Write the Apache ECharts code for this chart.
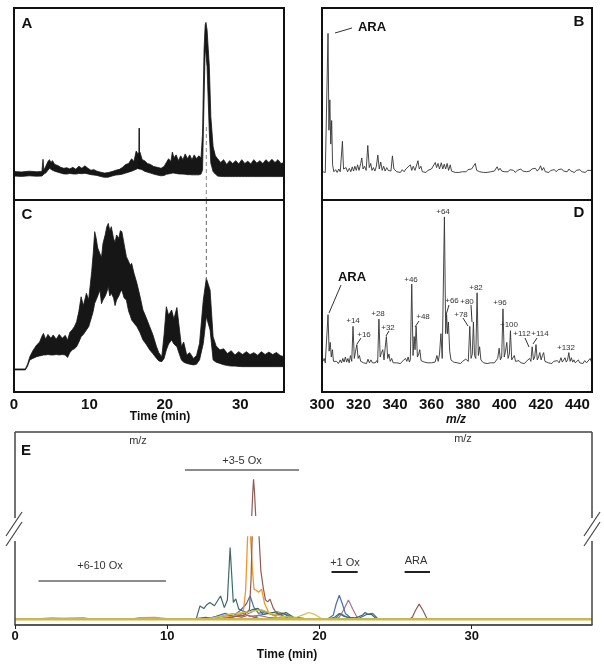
<!DOCTYPE html>
<html><head><meta charset="utf-8">
<script src="https://cdn.jsdelivr.net/npm/echarts@6/dist/echarts.min.js"></script>
<style>html,body{margin:0;padding:0;background:#fff}#c{width:604px;height:665px}</style>
</head><body><div id="c"></div>
<script>
const FONT = 'Liberation Sans, Arial, sans-serif';

// ---- Panel A: total ion chromatogram noise envelope (time min, lower / upper intensity)
const aTime  = [0,1,2,3,3.7,3.85,3.95,4.2,4.5,4.7,4.9,5.1,5.4,5.8,6.2,6.6,7.0,7.4,7.8,8.2,8.6,9.0,9.4,9.8,10.2,10.6,11.0,11.5,12.0,12.5,13.0,13.5,14.0,14.4,14.8,15.2,15.6,15.9,16.2,16.45,16.7,17.0,17.3,17.7,18.1,18.5,19.0,19.5,19.9,20.2,20.5,20.8,21.0,21.2,21.5,21.8,22.1,22.4,22.7,23.0,23.3,23.6,23.9,24.2,24.5,24.8,25.0,25.2,25.35,25.45,25.6,25.9,26.1,26.4,26.7,27.0,27.4,27.8,28.2,28.6,29.0,29.4,29.8,30.2,30.6,31.0,31.4,31.8,32.2,32.6,33.0,33.4,33.8,34.2,34.6,35.0,35.4,35.8];
const aLower = [12.5,12.3,12.6,12.4,12.5,13.0,13.5,14.0,15.5,16.5,16.0,15.5,15.0,14.5,14.0,13.6,13.5,13.8,13.6,13.5,13.8,13.7,13.9,13.6,13.2,13.0,12.8,12.2,11.8,11.9,12.5,13.0,13.2,13.5,14.0,14.5,15.0,15.5,16.0,16.5,16.2,15.7,15.0,14.5,14.0,13.5,13.0,12.6,12.8,13.4,13.6,13.8,14.0,14.0,13.8,13.6,13.5,13.5,13.4,13.2,13.2,13.1,13.1,13.1,13.1,13.5,15.7,52.1,79.9,76,69.5,34.8,19.1,14.8,13.5,12.5,12.3,12.2,12.2,12.2,12.2,12.2,12.2,12.2,12.2,12.2,12.2,12.2,12.2,12.2,12.2,12.2,12.2,12.2,12.2,12.2,12.2,12.2];
const aUpper = [14.8,14.6,15.0,14.7,14.9,21.2,15.5,17.5,20.0,21.0,19.5,20.5,18.5,18.0,17.0,16.5,16.8,16.2,17.0,16.0,17.6,16.5,17.8,16.5,15.5,15.8,15.0,14.5,14.0,14.3,14.8,15.5,16.0,17.0,18.5,19.0,21.5,20.0,25.5,24.0,25.0,21.0,20.5,19.0,18.5,17.5,17.0,16.5,17.5,19.5,21.5,20.0,25.0,22.0,23.5,20.5,23.0,21.0,24.0,21.5,23.5,21.0,23.5,21.5,23.0,22.0,34.8,78.2,91.2,92.5,88.6,69.5,43.4,27.8,23.0,21.5,19.5,21.0,18.5,20.5,19.0,20.5,18.8,21.0,19.0,20.2,18.8,21.0,19.2,20.5,19.0,21.0,19.5,21.2,19.5,21.0,19.0,19.5];
const aSpike = [[16.55, 16], [16.6, 37.4], [16.65, 16]];

// ---- Panel C
const cTime  = [0,1.5,1.8,2.1,2.5,3.0,3.4,3.7,3.9,4.2,4.5,4.9,5.2,5.6,6.0,6.4,6.8,7.1,7.4,7.7,8.0,8.3,8.6,8.9,9.2,9.6,9.9,10.3,10.5,10.7,10.9,11.1,11.4,11.6,11.8,12.1,12.3,12.5,12.7,12.9,13.2,13.4,13.6,13.9,14.1,14.3,14.6,14.9,15.2,15.4,15.6,15.9,16.3,16.7,17.1,17.5,18.0,18.4,18.9,19.2,19.6,19.9,20.2,20.5,20.9,21.2,21.6,21.9,22.2,22.5,22.9,23.3,23.8,24.2,24.6,25.1,25.5,26.0,26.4,26.8,27.3,27.8,28.3,28.8,29.3,29.8,30.3,30.8,31.3,31.8,32.3,32.8,33.3,33.8,34.3,34.8,35.3,35.8];
const cLower = [11.5,11.5,13.5,16.7,17.5,18.4,18.8,19.0,19.3,19.3,19.5,19.3,19.3,19.5,19.3,19.5,19.3,18.0,20.5,21.9,22.5,23.6,26.0,28.8,30.0,32.3,34.0,39.2,42.0,46.2,48.0,50.0,53.1,46.0,47.9,50.0,52.0,54.9,50.0,51.4,49.0,45.0,47.9,50.0,52.0,53.1,49.0,47.9,42.0,40.0,37.5,36.0,34.0,31.0,27.1,25.0,21.9,20.0,17.5,16.2,15.8,17.5,21.9,25.0,27.1,25.0,23.6,20.0,16.7,15.5,14.9,14.5,14.1,14.5,16.7,25.3,39.2,32.3,16.7,15.5,14.9,14.2,13.8,13.5,13.5,13.3,13.2,13.2,13.2,13.2,13.2,13.2,13.2,13.2,13.2,13.2,13.2,13.2];
const cUpper = [12.0,12.0,14.5,18.4,21.5,24.5,26.0,29.0,30.5,27.5,30.0,28.0,29.7,27.5,30.0,28.0,29.5,27.0,31.0,32.3,34.0,36.6,42.0,49.6,45.0,51.4,48.0,62.7,72.0,83.5,80.0,75.0,72.0,70.0,77.4,82.0,86.0,87.8,84.0,86.1,80.0,78.0,81.8,80.0,84.0,83.5,77.0,70.5,68.0,66.0,67.0,62.0,56.6,50.0,42.7,39.0,34.0,30.0,23.6,20.5,18.4,30.0,44.4,40.0,42.7,38.0,44.0,34.0,23.6,26.0,19.3,20.5,17.5,19.0,25.3,47.9,59.2,53.1,28.8,24.0,21.9,22.5,20.0,21.5,19.3,21.0,19.5,21.0,19.5,20.5,19.2,21.0,19.5,20.8,19.5,20.6,19.0,18.4];

const dashA = [[25.5, 38], [25.5, 0]];
const dashC = [[25.5, 100], [25.5, 58.3]];

// ---- Panel B: mass spectrum (m/z, relative intensity)
const specB = [[300.5,0],[301.2,1],[301.8,-0.5],[302.6,0],[303.3,100],[303.8,30],[304.3,52],[304.8,20],[305.3,37],[305.8,5],[306.5,0],[307.5,1.5],[308.3,-0.5],[309.2,2],[310,0],[310.6,0.5],[311.2,22],[311.8,2],[312.6,1],[313.2,3],[314,0],[315,2.5],[315.8,0],[316.6,3.5],[317.3,0.5],[318,4],[318.8,1],[319.5,5],[320.3,1],[321.2,6],[321.8,10],[322.5,2],[323.3,4],[324.2,1],[325.1,19],[325.9,3],[326.7,6],[327.4,1],[328.2,3],[329,0.5],[329.8,4],[330.6,12],[331.4,2],[332.2,7],[333,1],[333.8,4],[334.6,0.5],[335.5,3],[336.3,1],[337.1,2],[337.8,0.5],[338.6,11.5],[339.4,2],[340.2,1.5],[341,0],[342,1],[343,-0.5],[344,1.5],[345,0],[346,2],[347,1],[348.4,5],[349.2,1],[350,4],[351,1],[352.6,8],[353.3,2],[354.2,4],[355,0],[356,1],[357,-0.5],[358,1],[359,0],[360,2],[361,1],[362.1,6.7],[362.8,3],[363.6,6],[364.4,2],[365.4,6.5],[366.2,2],[367,5.5],[367.8,2],[368.6,6],[369.4,1],[370.3,5],[371,0.5],[372,1],[373,-0.5],[374,0.5],[375,-0.5],[376,0.5],[377,0],[378,1],[379,0],[380,1.5],[381,0.5],[382,2],[383,1],[384,6],[384.8,1],[385.6,2],[386.5,0],[387.5,0.5],[388.5,-0.5],[389.5,0.5],[390.5,-0.5],[391.5,0.5],[392.5,0],[393.5,-0.5],[394.5,0.5],[395.3,1],[396,3.6],[396.8,1],[397.6,2.5],[398.5,0.5],[399.3,1.5],[400.2,0],[401,1],[402,0],[403,1.5],[404,0.5],[405,1],[406,-0.5],[407,1],[408,0.5],[409,2],[410,0.5],[411,1.5],[412,0],[413,1],[414,0.5],[415,2],[416,1],[417,2.5],[418,0.5],[419,2],[419.8,4.3],[420.6,1],[421.5,3],[422.4,0],[423.4,1],[424.4,-0.5],[425.4,1],[426.4,0],[427.4,1.5],[428.4,0],[429.4,1.5],[430.4,0.5],[431.4,2],[432.4,0.5],[433.4,1.5],[434.4,0],[435.4,2],[436.4,0.5],[437.4,1],[438.4,-0.5],[439.4,1],[440.4,0],[441.4,1.5],[442.4,0],[443.4,1],[444.4,-0.5],[445.4,1],[446.4,0],[447.5,1]];

// ---- Panel D
const specD = [[300.5,1],[301.2,3],[301.8,0],[302.6,0.5],[303.3,33],[303.9,8],[304.5,14],[305.1,4],[305.7,9],[306.3,1],[307,0],[308,1],[309,-0.5],[310,2],[310.7,0],[311.4,3],[312.1,0.5],[312.8,4],[313.5,0.5],[314.2,3],[314.9,0],[315.6,5],[316.3,1],[317,25],[317.7,3],[318.4,8],[319.1,12.5],[319.8,3],[320.5,5],[321.2,1],[322,2],[322.8,0],[323.6,1],[324.4,-0.5],[325.2,2.5],[326,0],[326.8,2],[327.6,0],[328.4,1],[329.2,0],[330,1.5],[330.5,0],[331.2,30],[331.9,4],[332.6,7],[333.3,9],[334,2],[334.6,10],[335.3,18],[336,3],[336.7,6],[337.4,1],[338.2,3],[339,0],[340,1],[341,0],[342,0.5],[343,-0.5],[344,1],[345,0],[345.8,3],[346.5,1],[347.2,4],[347.9,0.5],[348.4,2],[349.2,54],[349.9,5],[350.5,18],[351,9],[351.6,25],[352.3,4],[353,6],[353.6,9],[354.3,1.5],[355,2],[356,0.5],[357,1],[358,0],[359,1],[360,0],[361,1],[362,0.5],[363,5],[363.7,1],[364.4,6],[365.2,20],[365.9,3],[366.4,4],[367.1,100],[367.8,20],[368.3,33],[368.8,20],[369.3,28],[370,8],[370.7,2],[371.4,3],[372.2,0.5],[373,1],[374,0],[375,1],[376,-0.5],[377,1],[378,0],[378.8,2.5],[379.5,3.5],[380.2,1],[381,25],[381.7,3],[382.4,6],[383,28],[383.6,5],[384.3,3],[385,48],[385.7,5],[386.4,11],[387.1,2],[387.8,3],[388.5,0],[389.5,1],[390.5,-0.5],[391.5,0.5],[392.5,0],[393.5,1],[394.5,0],[395.5,1],[396.3,3],[397.1,10],[397.8,2],[398.5,4],[399.2,37],[399.9,4],[400.6,8],[401.3,14],[402,3],[402.7,6],[403.3,22],[404,2],[404.7,3],[405.4,5],[406.1,1],[407,0],[408,1.5],[409,0],[410,1],[411,-0.5],[412,1],[413,0],[413.8,3],[414.5,1],[415.2,11],[415.9,2],[416.6,4],[417.3,12.5],[418,2],[418.7,4],[419.4,7],[420.1,2],[420.8,5],[421.5,7],[422.2,1],[423,2],[424,0],[425,1],[426,-0.5],[427,1],[428,0],[429,1.5],[430,0],[431,3.5],[431.7,0.5],[432.5,2],[433.2,3.5],[433.9,0.5],[434.6,2],[435.3,7],[436,1],[436.7,3.5],[437.4,0.5],[438.1,2],[438.8,0],[439.6,1],[440.5,2],[441.3,0],[442.2,1],[443,-0.5],[444,1.5],[445,0],[446,1],[447,3],[447.7,0.5]];
const dPeakLabels = ['+14','+16','+28','+32','+46','+48','+64','+66','+78','+80','+82','+96','+100','+112','+114','+132'];

// ---- Panel E: extracted ion chromatograms (time min, intensity; '-' = axis break)
const eTeal = [[0,0],[2,0.3],[4.5,0.6],[5,0.2],[11.9,0],[12.15,6.9],[12.4,5.5],[12.6,7.5],[12.8,8.7],[13.1,7],[13.5,12],[13.75,6],[13.95,10],[14.13,37.1],[14.34,8.7],[14.5,10.5],[14.7,5.2],[15.2,3.5],[15.6,5],[15.95,5.6],[16.3,2.5],[17.0,3.6],[17.4,2.5],[17.8,3.5],[18.3,1],[19,0.5],[20.5,0],[21.0,1],[21.3,3],[21.6,1.5],[22.3,0.5],[22.8,2],[23.0,3.5],[23.2,2.5],[23.4,2.6],[23.7,0.5],[24,0],[37.9,0]];
const eBlue = [[0,0],[12.5,0],[13.2,1.5],[13.8,3],[14.3,1.5],[14.8,4.5],[15.2,8],[15.44,12],[15.7,6],[16.0,3],[16.5,4],[17,2],[17.6,3],[18.2,0.5],[20.5,0],[20.9,2],[21.1,8],[21.3,12.4],[21.5,8],[21.7,3],[22,1],[22.6,0.5],[23.1,2.5],[23.5,3],[23.8,0.5],[24.2,0],[37.9,0]];
const ePink = [[0,0],[14,0],[14.6,2],[15,3],[15.4,1.5],[16,2],[16.6,1],[17.5,0.5],[21,0],[21.3,1],[21.6,5],[21.9,10],[22.2,5],[22.5,0.5],[23,0],[37.9,0]];
const eBrown = [[0,0],[13.5,0],[14.2,1],[15,2],[15.4,5],[15.5,20],[15.58,43],'-',[15.55,53.5],[15.62,66],[15.67,72.5],[15.73,66],[15.81,53.5],'-',[16.03,43],[16.15,25],[16.3,16.5],[16.45,10],[16.6,9],[16.75,10.4],[16.95,6],[17.1,4],[17.5,2],[18,0.5],[18.5,0],[25.9,0],[26.1,1],[26.3,4.5],[26.55,7.8],[26.8,4.5],[27.05,0.5],[27.3,0],[37.9,0]];
const eOrange = [[0,0],[7.5,0],[8.3,0.8],[9.2,1],[10,0.3],[12.5,0],[13.5,0.5],[14.2,1.5],[14.7,2.5],[15.0,4],[15.15,15],[15.28,43],'-',[15.47,43],[15.6,25],[15.7,15.5],[15.85,15],[16.0,14],[16.2,15.5],[16.4,8],[16.7,3],[17.2,1],[17.8,0.5],[18.5,0],[37.9,0]];
const eYellow = [[0,0],[1.8,0.5],[2.5,0.8],[3.2,0.3],[4,0],[12.5,0],[13.5,1.5],[14.5,3],[15.5,4],[16.2,5],[16.8,3],[17.5,1.5],[18.5,1],[19.0,2.5],[19.3,3.5],[19.7,2.5],[20.1,0.5],[20.5,0],[37.9,0]];
const eGreen = [[0,0],[13.0,0],[13.8,2],[14.3,3],[14.9,1.5],[15.5,3.5],[15.95,5.6],[16.3,4],[16.8,3],[17.2,4],[17.8,2.5],[18.3,0.5],[19,0],[37.9,0]];
const eRed = [[0,0],[8,0.5],[9,0.8],[10,0],[11.5,0],[12.0,0.5],[12.5,1],[13,0.5],[13.6,1.5],[14.2,2],[14.9,1],[15.3,2],[16,0.5],[17,0],[37.9,0]];
const eSlate = [[0,0],[15.5,0],[16.0,2],[16.6,3],[17.2,2],[17.7,3],[18.2,1],[18.8,0],[21.0,0],[21.4,3],[21.8,1],[22.5,0],[37.9,0]];
const eBase = [[0,0],[37.9,0]];

const chart = echarts.init(document.getElementById('c'));

function band(idx, t, lo, hi) {
  return {
    type: 'custom', xAxisIndex: idx, yAxisIndex: idx, data: [[t[0], lo[0]]], clip: true, silent: true,
    renderItem: function (params, api) {
      const pts = [];
      for (let i = 0; i < t.length; i++) pts.push(api.coord([t[i], hi[i]]));
      for (let i = t.length - 1; i >= 0; i--) pts.push(api.coord([t[i], lo[i]]));
      return { type: 'polygon', shape: { points: pts }, style: { fill: '#161616', stroke: '#161616', lineWidth: 0.8 } };
    }
  };
}
function line(idx, data, color, width, extra) {
  return Object.assign({ type: 'line', xAxisIndex: idx, yAxisIndex: idx, data: data, symbol: 'none', silent: true,
    connectNulls: false, lineStyle: { color: color, width: width }, animation: false }, extra || {});
}

const hiddenX = (min, max) => ({ type: 'value', min, max, show: false, splitLine: { show: false } });
const hiddenY = (min, max) => ({ type: 'value', min, max, show: false, splitLine: { show: false } });
const lbl = { fontFamily: FONT, fontWeight: 'bold', fontSize: 15, color: '#111' };

const T = (text, x, y, size, weight, style, fill) => ({ type: 'text', silent: true, z: 100,
  style: { text, x, y, font: (style || 'normal') + ' ' + (weight || 'normal') + ' ' + size + 'px ' + FONT, fill: fill || '#111', align: 'center', verticalAlign: 'middle' } });
const L = (x1, y1, x2, y2, stroke, w) => ({ type: 'line', silent: true, z: 100, shape: { x1, y1, x2, y2 }, style: { stroke: stroke || '#333', lineWidth: w || 1 } });
const R = (x, y, w, h) => ({ type: 'rect', silent: true, z: 100, shape: { x, y, width: w, height: h }, style: { fill: 'none', stroke: '#111', lineWidth: 2 } });

const dPos = [[353,321],[364,335],[378,314],[388,328],[411,280],[423,317],[443,212],[452,301],[461,315],[467,302],[476,288],[500,303],[509,325],[522,334],[540,334],[566,348]];

const graphics = [
  R(14, 8, 270, 192), R(322, 8, 270, 192), R(14, 200, 270, 192), R(322, 200, 270, 192),
  T('A', 27, 24, 15, 'bold'), T('B', 579, 22, 15, 'bold'), T('C', 27, 215, 15, 'bold'), T('D', 579, 213, 15, 'bold'),
  T('ARA', 372, 27, 13, 'bold'), L(335, 33, 352, 28, '#333', 1),
  T('ARA', 352, 277, 13, 'bold'), L(329, 313, 341, 285, '#333', 1),
  L(357, 344, 361, 338), L(386, 336, 389, 331), L(415, 327, 419, 321), L(446, 315, 449, 305),
  L(463, 318, 468, 326), L(471, 305, 472, 322), L(525, 338, 529, 347), L(537, 338, 533, 344),
  T('Time (min)', 160, 417, 12, 'bold'), T('m/z', 456, 420, 12, 'bold', 'italic'),
  // panel E frame with axis breaks
  L(15, 432, 592, 432, '#444', 1.5), L(15, 432, 15, 518, '#444', 1.5), L(15, 541, 15, 625, '#444', 1.5),
  L(592, 432, 592, 518, '#444', 1.5), L(592, 541, 592, 625, '#444', 1.5),
  L(6, 536, 22, 512, '#444', 1.2), L(6, 546, 22, 522, '#444', 1.2),
  L(584, 536, 600, 512, '#444', 1.2), L(584, 546, 600, 522, '#444', 1.2),
  T('E', 26, 451, 15, 'bold'),
  T('m/z', 138, 441, 11, 'normal', 'normal', '#333'), T('m/z', 463, 439, 11, 'normal', 'normal', '#333'),
  T('+3-5 Ox', 242, 461, 11, 'normal', 'normal', '#333'), L(185, 470, 299, 470, '#666', 1.5),
  T('+6-10 Ox', 100, 566, 11, 'normal', 'normal', '#333'), L(38.5, 581, 166, 581, '#666', 1.5),
  T('+1 Ox', 345, 563, 11, 'normal', 'normal', '#333'), L(331.5, 572, 357.7, 572, '#222', 2),
  T('ARA', 416, 561, 11, 'normal', 'normal', '#333'), L(404.6, 572, 430, 572, '#222', 2),
  T('Time (min)', 287, 655, 12, 'bold')
];
dPeakLabels.forEach((s, i) => graphics.push(T(s, dPos[i][0], dPos[i][1], 8, 'normal', 'normal', '#333')));

const option = {
  animation: false,
  backgroundColor: '#fff',
  grid: [
    { left: 14, top: 8, width: 270, height: 192 },
    { left: 322, top: 8, width: 270, height: 192 },
    { left: 14, top: 200, width: 270, height: 192 },
    { left: 322, top: 200, width: 270, height: 192 },
    { left: 15, top: 432, width: 577, height: 193 }
  ],
  xAxis: [
    Object.assign(hiddenX(0, 35.8), { gridIndex: 0 }),
    Object.assign(hiddenX(300, 448), { gridIndex: 1 }),
    { gridIndex: 2, type: 'value', min: 0, max: 35.8, interval: 10, axisLine: { show: false }, axisTick: { show: false }, splitLine: { show: false },
      axisLabel: Object.assign({ margin: 5, showMaxLabel: false }, lbl) },
    { gridIndex: 3, type: 'value', min: 300, max: 448, interval: 20, axisLine: { show: false }, axisTick: { show: false }, splitLine: { show: false },
      axisLabel: Object.assign({ margin: 5, showMaxLabel: false }, lbl) },
    { gridIndex: 4, type: 'value', min: 0, max: 37.9, interval: 10, splitLine: { show: false },
      axisLine: { show: true, onZero: false, lineStyle: { color: '#222', width: 1.5 } },
      axisTick: { show: true, length: 4, lineStyle: { color: '#222' } },
      axisLabel: Object.assign({ margin: 5, showMaxLabel: false }, lbl, { fontSize: 13 }) }
  ],
  yAxis: [
    Object.assign(hiddenY(0, 100), { gridIndex: 0 }),
    Object.assign(hiddenY(-20.4, 118.3), { gridIndex: 1 }),
    Object.assign(hiddenY(0, 100), { gridIndex: 2 }),
    Object.assign(hiddenY(-20, 111.6), { gridIndex: 3 }),
    Object.assign(hiddenY(-3, 97), { gridIndex: 4 })
  ],
  series: [
    band(0, aTime, aLower, aUpper),
    line(0, aSpike, '#111', 1),
    line(0, dashA, '#888', 1, { lineStyle: { color: '#888', width: 1, type: [4, 3] }, z: 5 }),
    line(1, specB, '#333', 0.9),
    band(2, cTime, cLower, cUpper),
    line(2, dashC, '#666', 1, { lineStyle: { color: '#666', width: 1, type: [4, 3] } }),
    line(3, specD, '#333', 0.9),
    line(4, eRed, '#B8453A', 1.1),
    line(4, eGreen, '#7A9A5E', 1.1),
    line(4, eSlate, '#5F7F86', 1.1),
    line(4, ePink, '#A8708E', 1.2),
    line(4, eBlue, '#4A6FA8', 1.2),
    line(4, eTeal, '#3D6B68', 1.2),
    line(4, eOrange, '#F2952A', 1.3),
    line(4, eBrown, '#8C5B55', 1.2),
    line(4, eYellow, '#D2BF4A', 1.2),
    line(4, eBase, '#C8B84E', 2.6)
  ],
  graphic: graphics
};
chart.setOption(option);
</script></body></html>
